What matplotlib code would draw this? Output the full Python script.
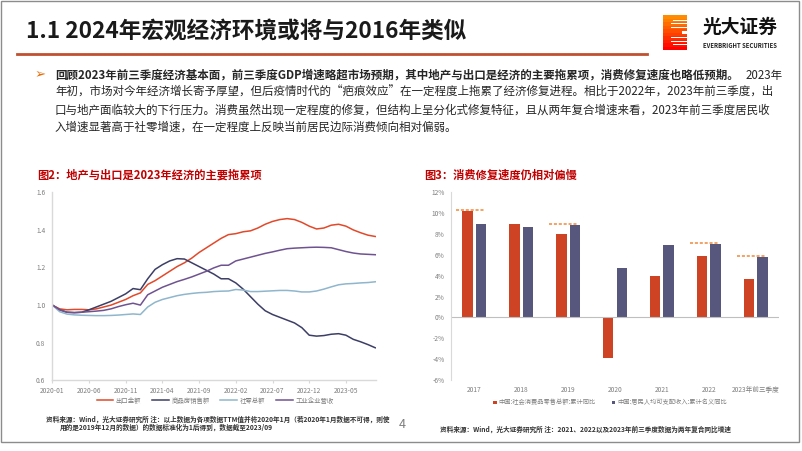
import numpy as np
import matplotlib.pyplot as plt
from matplotlib.patches import Rectangle
from matplotlib.lines import Line2D

plt.rcParams['font.family'] = ['Noto Sans CJK SC', 'DejaVu Sans']

# left chart data (TTM, normalised to 2020-01 = 1)
month_ticks = ['2020-01', '2020-06', '2020-11', '2021-04', '2021-09',
               '2022-02', '2022-07', '2022-12', '2023-05']
export = [1.00, 0.98, 0.975, 0.977, 0.977, 0.975, 0.98, 0.99, 1.00, 1.015,
          1.03, 1.05, 1.065, 1.11, 1.13, 1.155, 1.18, 1.205, 1.225, 1.25,
          1.28, 1.305, 1.33, 1.355, 1.375, 1.38, 1.39, 1.395, 1.41, 1.43,
          1.445, 1.455, 1.46, 1.455, 1.44, 1.42, 1.405, 1.41, 1.425, 1.43,
          1.42, 1.40, 1.385, 1.372, 1.365]
house = [1.00, 0.975, 0.962, 0.96, 0.962, 0.975, 0.99, 1.005, 1.02, 1.04,
         1.06, 1.088, 1.082, 1.14, 1.19, 1.215, 1.235, 1.247, 1.245, 1.225,
         1.205, 1.185, 1.165, 1.14, 1.14, 1.118, 1.085, 1.045, 1.005, 0.97,
         0.95, 0.935, 0.92, 0.905, 0.88, 0.84, 0.835, 0.838, 0.845, 0.848,
         0.84, 0.818, 0.805, 0.79, 0.773]
retail = [1.00, 0.965, 0.952, 0.948, 0.946, 0.945, 0.944, 0.944, 0.945, 0.947,
          0.95, 0.953, 0.95, 0.99, 1.015, 1.03, 1.04, 1.05, 1.057, 1.062,
          1.066, 1.068, 1.072, 1.074, 1.075, 1.083, 1.08, 1.072, 1.072, 1.074,
          1.076, 1.078, 1.078, 1.075, 1.07, 1.07, 1.075, 1.085, 1.097, 1.108,
          1.113, 1.115, 1.118, 1.12, 1.124]
industry = [1.00, 0.975, 0.962, 0.96, 0.962, 0.965, 0.968, 0.972, 0.98, 0.992,
            1.002, 1.01, 1.0, 1.055, 1.075, 1.095, 1.11, 1.125, 1.137, 1.15,
            1.165, 1.18, 1.198, 1.212, 1.212, 1.235, 1.245, 1.255, 1.265, 1.275,
            1.283, 1.292, 1.30, 1.303, 1.305, 1.307, 1.308, 1.307, 1.305, 1.295,
            1.285, 1.277, 1.272, 1.27, 1.268]
line_names = ['出口金额', '商品房销售额', '社零总额', '工业企业营收']

# right chart data (%)
years = ['2017', '2018', '2019', '2020', '2021', '2022', '2023年前三季度']
retail_yoy = [10.2, 9.0, 8.0, -3.9, 4.0, 5.9, 3.7]
income_yoy = [9.0, 8.7, 8.9, 4.7, 6.9, 7.0, 5.8]
dash_years = [0, 2, 5, 6]
dash_vals = [10.3, 9.0, 7.1, 5.85]
bar_names = ['中国:社会消费品零售总额:累计同比', '中国:居民人均可支配收入:累计名义同比']

W, H = 802, 451
fig = plt.figure(figsize=(W / 100, H / 100), dpi=100)


def px_axes(x0, y0, x1, y1):
    return fig.add_axes([x0 / W, 1 - y1 / H, (x1 - x0) / W, (y1 - y0) / H])


def ftext(x, y, s, **kw):
    return fig.text(x / W, 1 - y / H, s, **kw)


# slide frame
fig.patches.append(Rectangle((1 / W, 1 - 442 / H), 798 / W, 441 / H,
                             transform=fig.transFigure, fill=False,
                             ec='#8c8c8c', lw=1.0))

# header
ftext(26, 31, '1.1 2024年宏观经济环境或将与2016年类似', fontsize=16.3,
      fontweight='bold', color='#1a1a1a', va='center')
fig.add_artist(Line2D([17 / W, 647 / W], [1 - 53.5 / H, 1 - 53.5 / H],
                      color='#C0502F', lw=2.0))

# logo
lax = px_axes(663, 15, 687, 50)
lax.set_xlim(0, 1)
lax.set_ylim(0, 1)
lax.axis('off')
cols = plt.cm.autumn(np.linspace(0.55, 0.0, 10))
for i in range(10):
    y = 1 - (i + 1) / 10
    lax.add_patch(Rectangle((0, y), 1, 0.1, color=cols[i], lw=0))
    if i not in (0, 4, 5, 9):
        start = 0.35 + (0.05 if i in (1, 8) else 0)
        lax.add_patch(Rectangle((start, y + 0.04), 0.65, 0.025,
                                color='white', lw=0))
lax.add_patch(Rectangle((0.8, 0.45), 0.2, 0.1, color='white', lw=0))
ftext(703, 27, '光大证券', fontsize=13.5, fontweight='bold', color='#111111',
      va='center')
ftext(703, 45, 'EVERBRIGHT SECURITIES', fontsize=4.3, fontweight='bold',
      color='#222222', va='center')

# bullet paragraph
para = [
    '年初，市场对今年经济增长寄予厚望，但后疫情时代的“疤痕效应”在一定程度上拖累了经济修复进程。相比于2022年，2023年前三季度，出',
    '口与地产面临较大的下行压力。消费虽然出现一定程度的修复，但结构上呈分化式修复特征，且从两年复合增速来看，2023年前三季度居民收',
    '入增速显著高于社零增速，在一定程度上反映当前居民边际消费倾向相对偏弱。',
]
ftext(35, 75, '➢', fontsize=9.5, color='#E46C0A', va='center',
      family=['DejaVu Sans'])
ftext(55, 75, '回顾2023年前三季度经济基本面，前三季度GDP增速略超市场预期，其中地产与出口是经济的主要拖累项，消费修复速度也略低预期。',
      fontsize=8.3, fontweight='bold', color='#262626', va='center')
ftext(783, 75, '2023年', fontsize=8.3, color='#262626', va='center', ha='right')
for i, s in enumerate(para):
    ftext(55, 92.5 + 17.3 * i, s, fontsize=8.3, color='#262626', va='center')

# chart titles
ftext(37, 175, '图2：地产与出口是2023年经济的主要拖累项', fontsize=8.1,
      fontweight='bold', color='#C00000', va='center')
ftext(424, 175, '图3：消费修复速度仍相对偏慢', fontsize=8.1,
      fontweight='bold', color='#C00000', va='center')

grey = '#7f7f7f'
axis_c = '#D9D9D9'

# left line chart
ax1 = px_axes(52.3, 192.3, 376, 380.3)
x = np.arange(len(export))
line_cols = ['#E2492A', '#3C3E66', '#8FB6CC', '#6F5390']
for ys, c, n in zip([export, house, retail, industry], line_cols, line_names):
    ax1.plot(x, ys, color=c, lw=1.1, label=n)
ax1.set_xlim(0, 44.1)
ax1.set_ylim(0.6, 1.6)
ax1.set_xticks(np.arange(0, 45, 5))
ax1.set_xticklabels(month_ticks)
ax1.set_yticks(np.arange(0.6, 1.61, 0.2))
ax1.set_yticklabels(['%.1f' % v for v in np.arange(0.6, 1.61, 0.2)])
for s in ['top', 'right']:
    ax1.spines[s].set_visible(False)
for s in ['left', 'bottom']:
    ax1.spines[s].set_color(axis_c)
    ax1.spines[s].set_linewidth(1.0)
ax1.tick_params(axis='x', length=2, color=axis_c, labelsize=4.8,
                labelcolor=grey, pad=2.5)
ax1.tick_params(axis='y', length=0, labelsize=4.8, labelcolor=grey, pad=5)
ax1.legend(loc='center', bbox_to_anchor=(215 / W, 1 - 400.7 / H),
           bbox_transform=fig.transFigure, ncol=4, frameon=False,
           fontsize=4.6, handlelength=2.6, columnspacing=1.7,
           handletextpad=0.4, labelcolor=grey)

# right bar chart
ax2 = px_axes(451, 192.3, 779, 380)
xb = np.arange(len(years))
w = 0.22
b1 = ax2.bar(xb - 0.145, retail_yoy, w, color='#CD4324', label=bar_names[0])
b2 = ax2.bar(xb + 0.145, income_yoy, w, color='#57567D', label=bar_names[1])
for i, v in zip(dash_years, dash_vals):
    ax2.plot([i - 0.4, i + 0.22], [v, v], color='#F08A3C', lw=1.1,
             ls=(0, (2, 1.2)))
ax2.axhline(0, color='#BFBFBF', lw=0.8)
ax2.set_xlim(-0.5, 6.5)
ax2.set_ylim(-6, 12)
ax2.set_xticks(xb)
ax2.set_xticklabels(years)
ax2.set_yticks(np.arange(-6, 13, 2))
ax2.set_yticklabels(['%d%%' % v for v in np.arange(-6, 13, 2)])
for s in ['top', 'right', 'bottom']:
    ax2.spines[s].set_visible(False)
ax2.spines['left'].set_color(axis_c)
ax2.tick_params(axis='x', length=0, labelsize=4.8, labelcolor=grey, pad=4)
ax2.tick_params(axis='y', length=0, labelsize=4.8, labelcolor=grey, pad=4.5)
ax2.legend(handles=[b1, b2], loc='center',
           bbox_to_anchor=(610 / W, 1 - 402.5 / H),
           bbox_transform=fig.transFigure, ncol=2, frameon=False,
           fontsize=4.5, handlelength=0.5, handleheight=0.5,
           columnspacing=2.6, handletextpad=0.3, labelcolor=grey)

# sources and page number
ftext(46, 419, '资料来源：Wind，光大证券研究所 注：以上数据为各项数据TTM值并将2020年1月（若2020年1月数据不可得，则使',
      fontsize=4.8, fontweight='bold', color='#333333', va='center')
ftext(60, 427, '用的是2019年12月的数据）的数据标准化为1后得到，数据截至2023/09',
      fontsize=4.8, fontweight='bold', color='#333333', va='center')
ftext(440, 429, '资料来源：Wind，光大证券研究所 注：2021、2022以及2023年前三季度数据为两年复合同比增速',
      fontsize=4.8, fontweight='bold', color='#333333', va='center')
ftext(402, 424, '4', fontsize=9, color=grey, va='center', ha='center')

fig.savefig('out.png', dpi=100)
